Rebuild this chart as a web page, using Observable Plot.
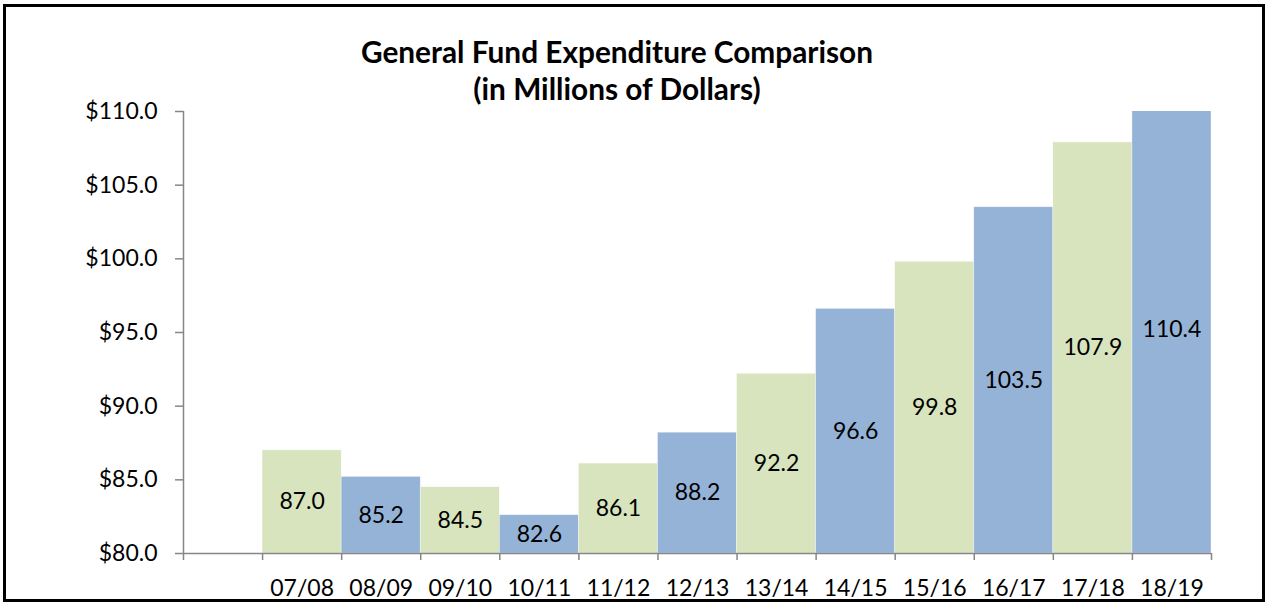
<!DOCTYPE html>
<html>
<head>
<meta charset="utf-8">
<script src="https://cdn.jsdelivr.net/npm/d3@7"></script>
<script src="https://cdn.jsdelivr.net/npm/@observablehq/plot@0.6"></script>
<style>
  html, body { margin: 0; padding: 0; background: #fff; }
  #wrap { position: relative; width: 1265px; height: 602px; overflow: hidden; font-family: Lato, "Open Sans", sans-serif; }
  #frame { position: absolute; left: 3px; top: 4px; width: 1262px; height: 598px; border: 3px solid #000; box-sizing: border-box; pointer-events: none; }
  #title { position: absolute; left: 317px; width: 600px; top: 33px; text-align: center; font-weight: 700; font-size: 29.8px; line-height: 37px; color: #000; }
  #chart { position: absolute; left: 0; top: 0; }
</style>
</head>
<body>
<div id="wrap">
  <div id="chart"></div>
  <div id="title">General Fund Expenditure Comparison<br>(in Millions of Dollars)</div>
  <div id="frame"></div>
</div>
<script>
const categories = ["07/08","08/09","09/10","10/11","11/12","12/13","13/14","14/15","15/16","16/17","17/18","18/19"];
const values = [87.0, 85.2, 84.5, 82.6, 86.1, 88.2, 92.2, 96.6, 99.8, 103.5, 107.9, 110.4];
const yTicks = [80, 85, 90, 95, 100, 105, 110];
const barColors = ["#D7E4BD", "#95B3D7"];
const axisGray = "#868686";

// first slot is left empty, as in the original
const rows = categories.map((cat, i) => ({cat, value: values[i], slot: i + 1, fill: barColors[i % 2]}));
const slotCount = categories.length + 1;

const chart = Plot.plot({
  width: 1265,
  height: 602,
  marginLeft: 183,
  marginRight: 54,
  marginTop: 111,
  marginBottom: 49,
  style: {fontFamily: "Lato, 'Open Sans', sans-serif", fontSize: "23px", color: "#000", background: "transparent"},
  x: {domain: [0, slotCount], axis: null, label: null},
  y: {domain: [80, 110], axis: null, label: null},
  color: {type: "identity"},
  marks: [
    Plot.rect(rows, {x1: "slot", x2: d => d.slot + 1, y1: 80, y2: "value", fill: "fill", stroke: "#ffffff", strokeWidth: 0.6, strokeOpacity: 0.6, clip: true}),
    Plot.axisY({ticks: yTicks, label: null, tickFormat: d => "$" + d.toFixed(1), tickSize: 8, tickPadding: 18, stroke: axisGray, strokeWidth: 1.5, strokeOpacity: 1, fill: "#000", fontSize: 23}),
    Plot.axisX({ticks: d3.range(0, slotCount + 1), label: null, tickFormat: () => "", tickSize: 7, stroke: axisGray, strokeWidth: 1.5, strokeOpacity: 1}),
    Plot.axisX({ticks: rows.map(d => d.slot + 0.5), label: null, tickFormat: t => categories[Math.floor(t) - 1], tickSize: 0, tickPadding: 26, fill: "#000", fontSize: 23}),
    Plot.ruleX([0], {stroke: axisGray, strokeWidth: 1.5}),
    Plot.ruleY([80], {stroke: axisGray, strokeWidth: 1.5}),
    Plot.text(rows, {x: d => d.slot + 0.5, y: d => (80 + d.value) / 2, text: d => d.value.toFixed(1), fill: "#000", fontSize: 23})
  ]
});
document.getElementById("chart").appendChild(chart);
</script>
</body>
</html>
